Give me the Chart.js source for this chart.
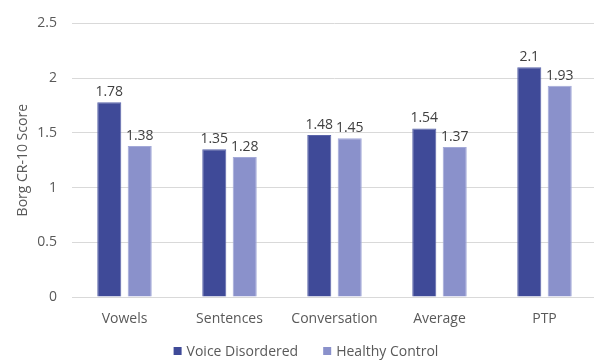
<!DOCTYPE html>
<html>
<head>
<meta charset="utf-8">
<script src="https://cdn.jsdelivr.net/npm/chart.js@4/dist/chart.umd.min.js"></script>
<style>
  html, body { margin: 0; padding: 0; background: #fff; overflow: hidden; }
  #wrap { width: 600px; height: 360px; position: relative; }
</style>
</head>
<body>
<div id="wrap"><canvas id="c" width="600" height="360"></canvas></div>
<script>
// Borg CR-10 perceived effort scores by task
const categories = ['Vowels', 'Sentences', 'Conversation', 'Average', 'PTP'];
const voiceDisordered = [1.78, 1.35, 1.48, 1.54, 2.1];
const healthyControl = [1.38, 1.28, 1.45, 1.37, 1.93];
const yTicks = [0, 0.5, 1, 1.5, 2, 2.5];

const FONT = "'Open Sans', 'Noto Sans', sans-serif";
const TEXT = '#595959';

// Value labels above each bar
const valueLabels = {
  id: 'valueLabels',
  afterDatasetsDraw(chart) {
    const ctx = chart.ctx;
    ctx.save();
    ctx.font = '14px ' + FONT;
    ctx.fillStyle = '#404040';
    ctx.textAlign = 'center';
    ctx.textBaseline = 'bottom';
    chart.data.datasets.forEach((ds, i) => {
      chart.getDatasetMeta(i).data.forEach((bar, j) => {
        ctx.fillText(String(ds.data[j]), bar.x, bar.y - 3);
      });
    });
    ctx.restore();
  }
};

// Compact legend row along the bottom edge
const bottomLegend = {
  id: 'bottomLegend',
  afterDraw(chart) {
    const ctx = chart.ctx;
    const box = 8, textGap = 5, itemGap = 25, cy = 351, centerX = 306;
    ctx.save();
    ctx.font = '14px ' + FONT;
    ctx.textBaseline = 'middle';
    const items = chart.data.datasets.map(ds => ({
      label: ds.label, color: ds.backgroundColor,
      w: box + textGap + ctx.measureText(ds.label).width
    }));
    const total = items.reduce((s, it) => s + it.w, 0) + itemGap * (items.length - 1);
    let x = centerX - total / 2;
    items.forEach(it => {
      ctx.fillStyle = it.color;
      ctx.fillRect(x, cy - box / 2, box, box);
      ctx.fillStyle = TEXT;
      ctx.fillText(it.label, x + box + textGap, cy + 1);
      x += it.w + itemGap;
    });
    ctx.restore();
  }
};

new Chart(document.getElementById('c'), {
  type: 'bar',
  data: {
    labels: categories,
    datasets: [
      { label: 'Voice Disordered', data: voiceDisordered, backgroundColor: '#3F4A98',
        borderColor: '#5A64AA', borderWidth: 1 },
      { label: 'Healthy Control', data: healthyControl, backgroundColor: '#8A91CB',
        borderColor: '#A3A9D8', borderWidth: 1 }
    ]
  },
  options: {
    responsive: false,
    animation: false,
    devicePixelRatio: 1,
    categoryPercentage: 0.58,
    barPercentage: 0.79,
    layout: { padding: { left: 15, right: 3, top: 9, bottom: 17 } },
    scales: {
      x: {
        grid: { display: false },
        border: { color: '#D9D9D9', width: 1 },
        ticks: { color: TEXT, font: { family: FONT, size: 14 }, padding: 6 },
        afterFit(scale) { scale.height = 46; }
      },
      y: {
        min: 0, max: 2.5,
        afterBuildTicks(scale) { scale.ticks = yTicks.map(v => ({ value: v })); },
        grid: { color: '#D9D9D9', drawTicks: false },
        border: { display: false },
        ticks: { color: TEXT, font: { family: FONT, size: 14 }, padding: 15,
                 callback: v => String(v) },
        title: { display: true, text: 'Borg CR-10 Score', color: TEXT,
                 font: { family: FONT, size: 14 }, padding: { top: 0, bottom: 0 } },
        afterFit(scale) { scale.width = 57; }
      }
    },
    plugins: {
      legend: { display: false },
      tooltip: { enabled: false }
    }
  },
  plugins: [valueLabels, bottomLegend]
});
</script>
</body>
</html>
